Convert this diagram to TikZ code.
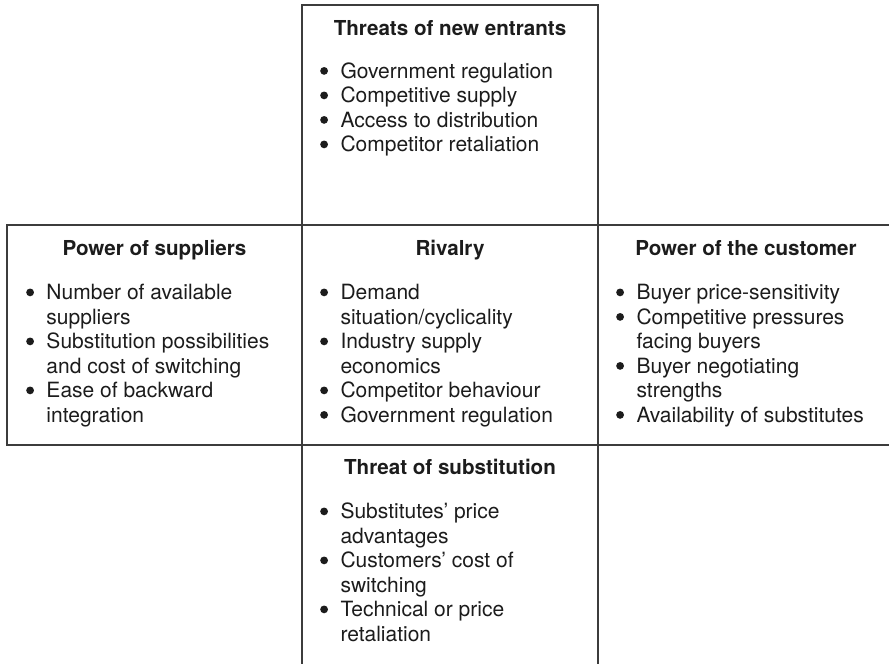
\documentclass[tikz,border=0pt]{standalone}
\usepackage{fontspec}
\setmainfont{TeX Gyre Heros}
\definecolor{Frame}{HTML}{3C3C3C}
\definecolor{Ink}{HTML}{1C1C1C}
\tikzset{
  frame/.style={Frame,line width=1.4pt},
  head/.style={Ink,anchor=base,inner sep=0pt,font=\fontsize{20.6}{24.5}\selectfont\bfseries},
  items/.style={Ink,anchor=base west,inner sep=0pt,font=\fontsize{21}{24.5}\selectfont},
}
\newcommand{\bul}{\raisebox{3.2pt}{\tikz\fill[Ink] (0,0) circle (3.9pt);}}
\newcommand{\forcelist}[1]{\begin{tabular}[t]{@{}l@{\hspace{12.5pt}}l@{}}#1\end{tabular}}

\begin{document}
\begin{tikzpicture}[x=1pt,y=-1pt]
\useasboundingbox (0,0) rectangle (889,664);
% grid of the five forces
\draw[frame] (302,225)--(302,5)--(598,5)--(598,225);
\draw[frame] (889,225)--(7,225)--(7,445)--(889,445);
\draw[frame] (302,225)--(302,664);
\draw[frame] (598,225)--(598,664);
% top
\node[head] (entrantsHead) at (450,35.5) {Threats of new entrants};
\node[items] (entrantsList) at (320,78) {\forcelist{
  \bul & Government regulation\\
  \bul & Competitive supply\\
  \bul & Access to distribution\\
  \bul & Competitor retaliation}};
% left
\node[head] (suppliersHead) at (154.5,255.5) {Power of suppliers};
\node[items] (suppliersList) at (26,299.5) {\forcelist{
  \bul & Number of available\\
       & suppliers\\
  \bul & Substitution possibilities\\
       & and cost of switching\\
  \bul & Ease of backward\\
       & integration}};
% centre
\node[head] (rivalryHead) at (450,255.5) {Rivalry};
\node[items] (rivalryList) at (320,299.5) {\forcelist{
  \bul & Demand\\
       & situation/cyclicality\\
  \bul & Industry supply\\
       & economics\\
  \bul & Competitor behaviour\\
  \bul & Government regulation}};
% right
\node[head] (customerHead) at (746,255.5) {Power of the customer};
\node[items] (customerList) at (616,299.5) {\forcelist{
  \bul & Buyer price-sensitivity\\
  \bul & Competitive pressures\\
       & facing buyers\\
  \bul & Buyer negotiating\\
       & strengths\\
  \bul & Availability of substitutes}};
% bottom
\node[head] (substitutionHead) at (450,474.5) {Threat of substitution};
\node[items] (substitutionList) at (320,518.5) {\forcelist{
  \bul & Substitutes' price\\
       & advantages\\
  \bul & Customers' cost of\\
       & switching\\
  \bul & Technical or price\\
       & retaliation}};
\end{tikzpicture}
\end{document}
